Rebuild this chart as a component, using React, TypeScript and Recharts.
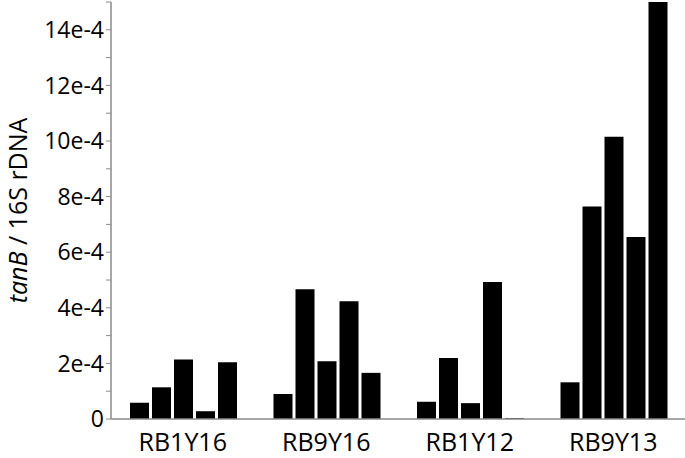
import React from "react";
import { BarChart, Bar, XAxis, YAxis } from "recharts";

// values in units of 1e-4 (tanB / 16S rDNA)
const categories = ["RB1Y16", "RB9Y16", "RB1Y12", "RB9Y13"];
const sample1 = [0.585, 0.9, 0.62, 1.32];
const sample2 = [1.14, 4.67, 2.19, 7.64];
const sample3 = [2.14, 2.08, 0.57, 10.15];
const sample4 = [0.28, 4.24, 4.93, 6.55];
const sample5 = [2.04, 1.66, 0.03, 15.0];
const yTicks = [0, 1, 2, 3, 4, 5, 6, 7, 8, 9, 10, 11, 12, 13, 14, 15];

const seriesKeys = ["s1", "s2", "s3", "s4", "s5"];
const seriesValues = [sample1, sample2, sample3, sample4, sample5];

const data = categories.map((c, i) => {
  const row: Record<string, number | string> = { name: c };
  seriesKeys.forEach((k, j) => {
    row[k] = seriesValues[j][i];
  });
  return row;
});

const FONT = "'Open Sans', sans-serif";
const AXIS_COLOR = "#8a8a8a";

const formatY = (v: number) => {
  if (v === 0) return "0";
  if (v % 2 === 0 && v <= 14) return `${v}e-4`;
  return "";
};

const YLabel = (props: any) => {
  const vb = props.viewBox || {};
  const cy = (vb.y ?? 0) + (vb.height ?? 0) / 2;
  const cx = 17;
  return (
    <text
      x={cx}
      y={cy}
      transform={`rotate(-90, ${cx}, ${cy})`}
      textAnchor="middle"
      dominantBaseline="central"
      fontFamily={FONT}
      fontSize={25}
      fill="#000"
    >
      <tspan fontStyle="italic">tanB</tspan>
      <tspan> / 16S rDNA</tspan>
    </text>
  );
};

export default function App() {
  return (
    <div style={{ position: "fixed", left: 0, top: 0, width: 685, height: 458, background: "#fff" }}>
      <BarChart
        width={685}
        height={458}
        data={data}
        margin={{ top: 2, right: 0, bottom: 0, left: 0 }}
        barCategoryGap={19}
        barGap={3}
      >
        <XAxis
          dataKey="name"
          axisLine={{ stroke: AXIS_COLOR, strokeWidth: 1.5 }}
          tickLine={false}
          tickSize={0}
          tickMargin={14}
          height={39}
          interval={0}
          tick={{ fontFamily: FONT, fontSize: 25, fill: "#000" }}
        />
        <YAxis
          width={111}
          domain={[0, 15]}
          allowDataOverflow
          ticks={yTicks}
          interval={0}
          tickFormatter={formatY}
          axisLine={{ stroke: AXIS_COLOR, strokeWidth: 1.5 }}
          tickLine={{ stroke: AXIS_COLOR, strokeWidth: 1 }}
          tickSize={5}
          tickMargin={2}
          tick={{ fontFamily: FONT, fontSize: 23, fill: "#000" }}
          label={<YLabel />}
        />
        {seriesKeys.map((k) => (
          <Bar key={k} dataKey={k} fill="#000" isAnimationActive={false} />
        ))}
      </BarChart>
    </div>
  );
}
